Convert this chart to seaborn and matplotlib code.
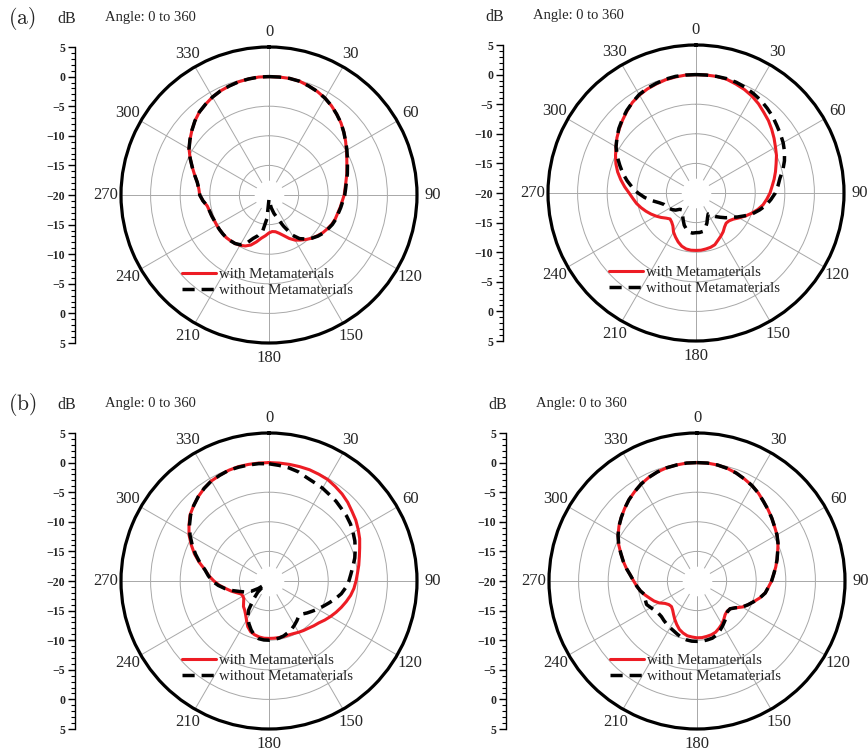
import numpy as np
import matplotlib
matplotlib.use("Agg")
import matplotlib.pyplot as plt
import seaborn as sns

# sampled pattern angles (deg, clockwise from north) and gain in dB
angles = np.arange(0, 360, 5)
angle_ticks = np.arange(0, 360, 30)
angle_labels = [str(a) for a in angle_ticks]
db_rings = [-15, -10, -5, 0]
db_min, db_max = -20, 5
scale_ticks = np.arange(-25, 26, 5)
scale_labels = [f"{abs(v) - 20:g}".replace("-", "\u2212") for v in scale_ticks]
series_labels = ["with Metamaterials", "without Metamaterials"]

a1_with = [0.0, 0.0, 0.0, -0.1, -0.4, -0.7, -1.1, -1.6, -2.2, -2.8, -3.5, -4.2,
           -4.9, -5.5, -6.0, -6.4, -6.8, -7.1, -7.3, -7.6, -7.8, -8.0, -8.1, -8.3,
           -8.6, -8.9, -9.3, -9.7, -10.2, -10.7, -11.2, -11.9, -12.7, -13.3, -13.7, -13.8,
           -13.6, -13.1, -12.6, -11.8, -11.0, -10.5, -10.2, -10.0, -9.9, -9.8, -9.8, -9.8,
           -9.8, -9.8, -9.7, -9.6, -9.4, -8.8, -8.3, -8.1, -7.7, -7.0, -6.2, -5.3,
           -4.4, -3.7, -3.0, -2.3, -1.7, -1.3, -0.9, -0.6, -0.4, -0.2, -0.1, 0.0]
a1_without = [0.0, 0.0, 0.0, -0.1, -0.4, -0.7, -1.1, -1.6, -2.2, -2.8, -3.5, -4.2,
              -4.8, -5.4, -5.9, -6.3, -6.7, -7.0, -7.2, -7.5, -7.7, -7.9, -8.0, -8.2,
              -8.5, -8.8, -9.2, -9.7, -10.3, -11.0, -12.2, -14.2, -15.8, -16.8, -17.8, -18.8,
              -19.3, -16.0, -13.8, -12.9, -12.2, -11.0, -10.3, -10.0, -9.9, -9.8, -9.8, -9.8,
              -9.8, -9.8, -9.7, -9.6, -9.4, -8.8, -8.3, -8.1, -7.7, -7.0, -6.2, -5.3,
              -4.4, -3.7, -3.0, -2.3, -1.7, -1.3, -0.9, -0.6, -0.4, -0.2, -0.1, 0.0]

a2_with = [0.0, 0.0, 0.0, -0.1, -0.4, -0.7, -1.1, -1.6, -2.2, -2.7, -3.3, -3.9,
           -4.5, -5.0, -5.6, -6.1, -6.6, -7.1, -7.5, -8.0, -8.5, -9.2, -10.0, -10.8,
           -11.6, -12.3, -12.7, -12.8, -12.5, -12.0, -11.6, -11.2, -10.7, -10.5, -10.4, -10.3,
           -10.3, -10.3, -10.4, -10.7, -11.2, -11.8, -12.4, -13.2, -13.6, -13.8, -13.4, -12.8,
           -12.2, -11.6, -11.0, -10.4, -9.8, -9.3, -8.7, -7.9, -7.1, -6.3, -5.6, -5.0,
           -4.4, -3.7, -3.1, -2.5, -1.9, -1.3, -0.9, -0.6, -0.4, -0.2, -0.1, 0.0]
a2_without = [0.0, 0.0, 0.0, 0.0, -0.1, -0.3, -0.6, -0.9, -1.3, -1.7, -2.2, -2.6,
              -3.0, -3.5, -4.1, -4.8, -5.6, -6.1, -6.6, -7.3, -8.0, -8.9, -9.8, -10.9,
              -11.9, -12.8, -13.5, -14.2, -14.8, -15.4, -15.9, -15.4, -14.6, -13.9, -13.4, -13.3,
              -13.3, -13.2, -13.3, -13.7, -14.2, -14.9, -15.5, -16.0, -16.3, -16.1, -15.5, -15.1,
              -14.8, -14.6, -14.3, -13.6, -12.5, -11.3, -10.2, -9.2, -8.2, -7.2, -6.3, -5.3,
              -4.4, -3.7, -3.0, -2.4, -1.8, -1.3, -0.8, -0.5, -0.3, -0.1, 0.0, 0.0]

b1_with = [0.0, 0.0, 0.0, 0.0, 0.0, -0.1, -0.2, -0.5, -0.8, -1.2, -1.7, -2.1,
           -2.6, -3.1, -3.7, -4.2, -4.6, -5.0, -5.3, -5.6, -6.0, -6.5, -7.0, -7.5,
           -8.0, -8.5, -9.0, -9.3, -9.6, -9.8, -10.0, -10.2, -10.3, -10.3, -10.3, -10.3,
           -10.3, -10.3, -10.4, -10.6, -10.9, -11.5, -12.4, -13.1, -13.6, -13.9, -14.4, -14.8,
           -14.9, -14.8, -14.2, -13.4, -12.6, -11.6, -10.7, -9.8, -9.0, -7.8, -6.6, -5.5,
           -4.4, -3.5, -2.6, -2.0, -1.4, -0.9, -0.5, -0.3, -0.1, 0.0, 0.0, 0.0]
b1_without = [-0.2, -0.4, -0.6, -0.9, -1.4, -1.7, -1.9, -2.2, -2.4, -2.7, -2.9, -3.2,
              -3.6, -4.0, -4.5, -5.0, -5.6, -6.1, -6.5, -7.0, -7.6, -8.4, -9.2, -9.9,
              -10.5, -11.1, -11.6, -12.1, -12.2, -11.8, -11.4, -11.0, -10.7, -10.4, -10.2, -10.1,
              -10.0, -10.0, -10.1, -10.5, -11.2, -12.0, -12.8, -14.0, -15.8, -17.3, -19.0, -17.8,
              -16.5, -15.6, -14.8, -13.7, -12.5, -11.4, -10.4, -9.7, -9.0, -7.9, -6.8, -5.7,
              -4.6, -3.6, -2.7, -2.0, -1.4, -0.9, -0.5, -0.3, -0.1, -0.1, -0.1, -0.1]

b2_with = [0.0, 0.0, -0.1, -0.3, -0.6, -1.0, -1.4, -1.9, -2.5, -3.0, -3.5, -4.0,
           -4.4, -4.9, -5.5, -6.0, -6.5, -7.0, -7.4, -7.9, -8.3, -9.0, -9.8, -10.5,
           -11.2, -12.1, -12.7, -12.8, -12.6, -12.1, -11.6, -11.2, -10.8, -10.6, -10.5, -10.4,
           -10.4, -10.5, -10.6, -10.9, -11.3, -11.9, -12.5, -13.1, -13.6, -13.9, -13.8, -13.4,
           -12.6, -12.0, -11.5, -10.9, -10.3, -9.8, -9.3, -8.7, -7.9, -7.1, -6.3, -5.4,
           -4.6, -3.9, -3.3, -2.7, -2.1, -1.6, -1.1, -0.7, -0.4, -0.2, -0.1, 0.0]
b2_without = [0.0, 0.0, -0.1, -0.3, -0.6, -1.0, -1.4, -1.9, -2.5, -3.0, -3.5, -4.0,
              -4.4, -4.9, -5.5, -6.0, -6.5, -7.0, -7.4, -7.9, -8.3, -9.0, -9.8, -10.5,
              -11.2, -12.1, -12.7, -12.7, -12.3, -11.8, -11.3, -10.8, -10.3, -10.0, -9.9, -9.8,
              -9.8, -9.8, -9.9, -10.1, -10.4, -10.7, -10.9, -11.1, -11.3, -11.5, -11.5, -11.3,
              -11.0, -10.6, -10.7, -10.9, -10.3, -9.8, -9.3, -8.7, -7.9, -7.1, -6.3, -5.4,
              -4.6, -3.9, -3.3, -2.7, -2.1, -1.6, -1.1, -0.7, -0.4, -0.2, -0.1, 0.0]

W, H = 868, 753
R = 148
RED = "#ed1c24"

sns.set_theme(style="white")
plt.rcParams["font.family"] = ["Liberation Serif", "DejaVu Serif"]
plt.rcParams["mathtext.fontset"] = "cm"


def px_rect(x0, y0, w, h):
    return [x0 / W, 1 - (y0 + h) / H, w / W, h / H]


def draw_panel(fig, with_vals, without_vals, cx, cy, scale_x, tag=None):
    # linear dB ruler on the left
    ax_s = fig.add_axes(px_rect(scale_x, cy - R, 1, 2 * R))
    ax_s.set_ylim(-25, 25)
    ax_s.set_xticks([])
    ax_s.set_yticks(scale_ticks, labels=scale_labels, fontweight="bold")
    ax_s.set_yticks(np.arange(-25, 26, 1), minor=True)
    ax_s.tick_params(axis="y", which="major", left=True, length=5, width=1,
                     direction="out", labelsize=8.5, pad=2, color="black")
    ax_s.tick_params(axis="y", which="minor", left=True, length=3, width=0.8,
                     direction="out", color="black")
    for side in ["top", "right", "bottom"]:
        ax_s.spines[side].set_visible(False)
    ax_s.spines["left"].set_color("black")
    ax_s.spines["left"].set_linewidth(1)
    ax_s.patch.set_alpha(0)

    top = cy - R - 28
    fig.text((scale_x - 8) / W, 1 - top / H, "dB", fontsize=11.5, ha="center", va="center")
    fig.text((scale_x + 30) / W, 1 - (top - 1) / H, "Angle: 0 to 360", fontsize=10.5,
             ha="left", va="center")
    if tag:
        fig.text(8 / W, 1 - (top - 1) / H, r"$(\mathrm{%s})$" % tag, fontsize=15.5,
                 ha="left", va="center")

    # polar pattern
    ax = fig.add_axes(px_rect(cx - R, cy - R, 2 * R, 2 * R), projection="polar")
    ax.set_theta_zero_location("N")
    ax.set_theta_direction(-1)
    ax.set_axisbelow(True)

    theta = np.deg2rad(np.append(angles, 360))
    sns.lineplot(x=theta, y=np.append(with_vals, with_vals[0]), ax=ax, color=RED,
                 lw=2.2, sort=False, estimator=None, label=series_labels[0], zorder=3)
    sns.lineplot(x=theta, y=np.append(without_vals, without_vals[0]), ax=ax, color="black",
                 lw=2.5, linestyle=(0, (3.5, 2.0)), sort=False, estimator=None,
                 label=series_labels[1], zorder=4)

    # blank hub in the middle, as in the original
    hub = np.linspace(0, 2 * np.pi, 120)
    ax.fill_between(hub, db_min, -17.5, color="white", lw=0, zorder=1)

    ax.set_ylim(db_min, db_max)
    ax.set_yticks(db_rings, labels=[])
    ax.set_xticks(np.deg2rad(angle_ticks), labels=angle_labels)
    ax.tick_params(axis="x", labelsize=12, pad=4, direction="in", length=6, width=1.3,
                   color="black")
    ax.grid(True, color="#a8a8a8", lw=0.7)
    ax.spines["polar"].set_linewidth(2.3)
    ax.spines["polar"].set_color("black")
    ax.set_xlabel("")
    ax.set_ylabel("")

    ax.legend(loc="upper left", bbox_to_anchor=(0.205, 0.255), frameon=False,
              fontsize=10.7, handlelength=2.3, handletextpad=0.2, labelspacing=0.2,
              borderpad=0, borderaxespad=0)


fig = plt.figure(figsize=(W / 100, H / 100), dpi=100)
fig.patch.set_facecolor("white")

draw_panel(fig, a1_with, a1_without, 269, 195, 75, "a")
draw_panel(fig, a2_with, a2_without, 696, 193, 503)
draw_panel(fig, b1_with, b1_without, 269, 581, 75, "b")
draw_panel(fig, b2_with, b2_without, 697, 581, 506)

fig.savefig("out.png", dpi=100, facecolor="white")
